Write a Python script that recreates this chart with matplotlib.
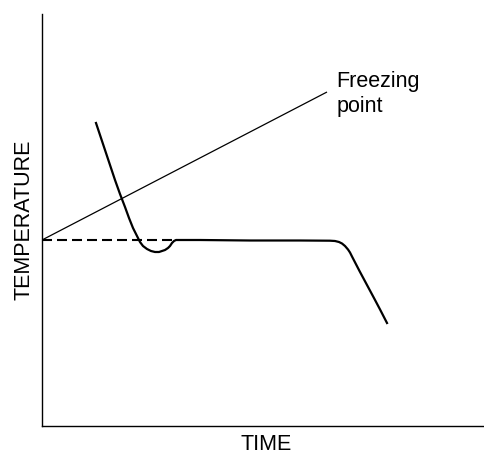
import matplotlib
matplotlib.use("Agg")
import matplotlib.pyplot as plt

plt.rcParams['font.family'] = ['Liberation Sans', 'DejaVu Sans']

# Data (in axis units)
cool_x = [54, 58, 63, 68, 73, 78, 83, 87, 91, 95, 98, 101, 105, 109, 113, 117, 120, 123, 126, 128, 130, 132, 134,
          158, 208, 258, 288, 293, 297, 300, 303, 306, 308, 310, 317.5, 325, 332.5, 338, 345]
cool_y = [303, 291, 276, 261, 246, 232, 219, 208, 198, 190, 184, 180, 177, 175, 174, 174, 175, 176, 178, 180, 183, 185, 186,
          186, 185.5, 185.5, 185.3, 185, 184, 182.5, 180, 176.5, 173.5, 169.5, 155, 141, 127, 116.6, 103]
freeze_x = [0, 285]
freeze_y = [186, 334]
super_x = [0, 134]
super_y = [186, 186]

fig = plt.figure(figsize=(4.84, 4.53), dpi=100)
ax = fig.add_axes([42/484, 27/453, 442/484, 412/453])
ax.set_xlim(0, 442)
ax.set_ylim(0, 412)

ax.plot(freeze_x, freeze_y, color='black', lw=0.9, solid_capstyle='butt')
ax.plot(super_x, super_y, color='black', lw=1.5, dashes=(4.8, 2.4))
ax.plot(cool_x, cool_y, color='black', lw=1.6, solid_joinstyle='round')

ax.text(294.5, 355, 'Freezing\npoint', fontsize=15.5, ha='left', va='top', linespacing=1.22)

for s in ['top', 'right']:
    ax.spines[s].set_visible(False)
for s in ['left', 'bottom']:
    ax.spines[s].set_linewidth(1.0)
ax.set_xticks([])
ax.set_yticks([])

fig.text(266/484, 1 - 444/453, 'TIME', fontsize=15.5, ha='center', va='center')
fig.text(24/484, 1 - 220/453, 'TEMPERATURE', fontsize=15.5, ha='center', va='center', rotation=90)

fig.savefig('out.png', dpi=100)
